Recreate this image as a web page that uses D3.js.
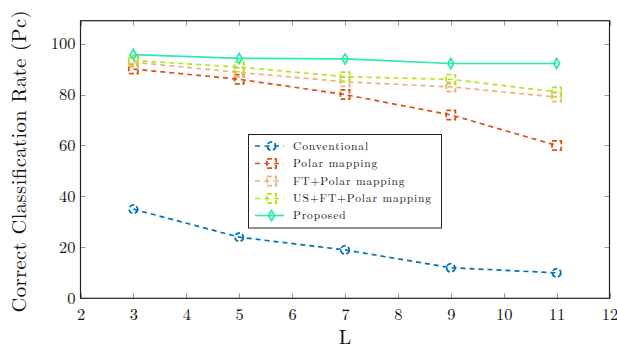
<!DOCTYPE html>
<html>
<head>
<meta charset="utf-8">
<script src="https://cdn.jsdelivr.net/npm/d3@7"></script>
<style>
  html, body { margin: 0; padding: 0; background: #fff; }
  svg { display: block; }
</style>
</head>
<body>
<svg id="chart" width="617" height="351"></svg>
<script>
// Window sizes L on the x axis
const lValues = [3, 5, 7, 9, 11];

// Correct classification rate (%) for each method
const conventional = [35, 24, 19, 12, 10];
const polarMapping = [90, 86, 80, 72, 60];
const ftPolarMapping = [92.7, 88.7, 85, 83, 79];
const usFtPolarMapping = [93.4, 90.8, 87, 86, 81];
const proposed = [95.7, 94.2, 94, 92.2, 92.2];

const seriesNames = ["Conventional", "Polar mapping", "FT+Polar mapping", "US+FT+Polar mapping", "Proposed"];
const seriesColors = ["#0072bd", "#d95319", "#efb07e", "#b3e61f", "#2ee8b2"];
const seriesMarkers = ["circle", "square", "square", "square", "diamond"];
const seriesDashed = [true, true, true, true, false];

const xTicks = [2, 3, 4, 5, 6, 7, 8, 9, 10, 11, 12];
const yTicks = [0, 20, 40, 60, 80, 100];

const seriesValues = [conventional, polarMapping, ftPolarMapping, usFtPolarMapping, proposed];

const SERIF = "'Latin Modern Roman', 'Liberation Serif', serif";

const svg = d3.select("#chart");
const plotLeft = 80.5, plotRight = 609.5, plotTop = 20.7, plotBottom = 298.3;

const x = d3.scaleLinear().domain([2, 12]).range([plotLeft, plotRight]);
const y = d3.scaleLinear().domain([0, 109]).range([plotBottom, plotTop]);

// Tick marks on all four sides, pointing inward
const tickG = svg.append("g").attr("stroke", "#9a9a9a").attr("stroke-width", 1);
xTicks.forEach(t => {
  const px = Math.round(x(t)) + 0.5;
  tickG.append("line").attr("x1", px).attr("x2", px).attr("y1", plotBottom).attr("y2", plotBottom - 5);
  tickG.append("line").attr("x1", px).attr("x2", px).attr("y1", plotTop).attr("y2", plotTop + 5);
});
yTicks.forEach(t => {
  const py = Math.round(y(t)) + 0.5;
  tickG.append("line").attr("x1", plotLeft).attr("x2", plotLeft + 5).attr("y1", py).attr("y2", py);
  tickG.append("line").attr("x1", plotRight).attr("x2", plotRight - 5).attr("y1", py).attr("y2", py);
});

// Tick labels through D3 axes (tick lines hidden; drawn above)
const xAxis = d3.axisBottom(x).tickValues(xTicks).tickSize(0).tickPadding(10).tickFormat(d3.format("d"));
const gx = svg.append("g").attr("transform", `translate(0,${plotBottom})`).call(xAxis);
gx.select(".domain").remove();
gx.selectAll("text").style("font-family", SERIF).style("font-size", "16.5px").attr("fill", "#111");

const yAxis = d3.axisLeft(y).tickValues(yTicks).tickSize(0).tickPadding(5).tickFormat(d3.format("d"));
const gy = svg.append("g").attr("transform", `translate(${plotLeft},0)`).call(yAxis);
gy.select(".domain").remove();
gy.selectAll("text").style("font-family", SERIF).style("font-size", "16.5px").attr("fill", "#111");

// Plot frame
svg.append("rect")
  .attr("x", plotLeft).attr("y", plotTop)
  .attr("width", plotRight - plotLeft).attr("height", plotBottom - plotTop)
  .attr("fill", "none").attr("stroke", "#222").attr("stroke-width", 1.2);

// Axis titles
svg.append("text")
  .attr("x", x(7)).attr("y", 344)
  .attr("text-anchor", "middle")
  .style("font-family", SERIF).style("font-size", "20px")
  .attr("fill", "#111")
  .text("L");

svg.append("text")
  .attr("transform", `translate(26,${(plotTop + plotBottom) / 2 + 2}) rotate(-90)`)
  .attr("text-anchor", "middle")
  .style("font-family", SERIF).style("font-size", "20.5px")
  .attr("fill", "#111")
  .attr("textLength", 302).attr("lengthAdjust", "spacing")
  .text("Correct Classification Rate (Pc)");

// Marker drawing helper
function drawMarker(g, kind, cx, cy, color, dashed) {
  let m;
  if (kind === "circle") {
    m = g.append("circle").attr("cx", cx).attr("cy", cy).attr("r", 4.2);
  } else if (kind === "square") {
    m = g.append("rect").attr("x", cx - 4.6).attr("y", cy - 4.6).attr("width", 9.2).attr("height", 9.2);
  } else {
    m = g.append("path").attr("d", `M${cx},${cy - 5} L${cx + 3},${cy} L${cx},${cy + 5} L${cx - 3},${cy} Z`);
  }
  m.attr("fill", "none")
   .attr("stroke", color).attr("stroke-width", 1.8);
  if (dashed) m.attr("stroke-dasharray", "5,2.5");
  return m;
}

const line = d3.line().x(d => x(d[0])).y(d => y(d[1]));

// Series lines and markers
seriesValues.forEach((vals, i) => {
  const pts = lValues.map((l, k) => [l, vals[k]]);
  const g = svg.append("g");
  g.append("path")
    .attr("d", line(pts))
    .attr("fill", "none")
    .attr("stroke", seriesColors[i])
    .attr("stroke-width", 1.7)
    .attr("stroke-dasharray", seriesDashed[i] ? "5,4" : null);
  pts.forEach(p => drawMarker(g, seriesMarkers[i], x(p[0]), y(p[1]), seriesColors[i], seriesDashed[i]));
});

// Legend
const lg = svg.append("g");
lg.append("rect")
  .attr("x", 248.5).attr("y", 134.5).attr("width", 193).attr("height", 93.5)
  .attr("fill", "#fff").attr("stroke", "#222").attr("stroke-width", 1);
const rowY = [146, 163.5, 181, 198.5, 215.5];
seriesNames.forEach((name, i) => {
  const cy = rowY[i];
  lg.append("line")
    .attr("x1", 255).attr("x2", 284).attr("y1", cy).attr("y2", cy)
    .attr("stroke", seriesColors[i]).attr("stroke-width", 1.7)
    .attr("stroke-dasharray", seriesDashed[i] ? "5,4.5" : null);
  drawMarker(lg, seriesMarkers[i], 271.5, cy, seriesColors[i], seriesDashed[i]);
  lg.append("text")
    .attr("x", 293).attr("y", cy + 3.8)
    .style("font-family", SERIF).style("font-size", "11.5px")
    .style("letter-spacing", "0.85px")
    .attr("fill", "#111")
    .text(name);
});
</script>
</body>
</html>
